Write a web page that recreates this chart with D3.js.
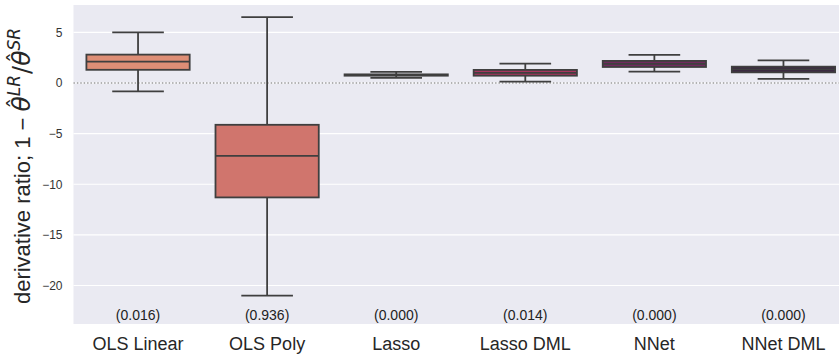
<!DOCTYPE html>
<html><head><meta charset="utf-8">
<script src="https://cdn.jsdelivr.net/npm/d3@7"></script>
<style>body{margin:0;background:#fff;} svg{display:block;font-family:"Liberation Sans",Arial,sans-serif;}</style>
</head><body>
<svg id="c" width="839" height="358"></svg>
<script>
const categories = ["OLS Linear","OLS Poly","Lasso","Lasso DML","NNet","NNet DML"];
const whiskerLow = [-0.83,-21.0,0.50,0.13,1.12,0.40];
const q1 =        [1.30,-11.3,0.72,0.72,1.58,1.05];
const median =    [2.10,-7.2,0.78,0.99,1.88,1.35];
const q3 =        [2.80,-4.13,0.85,1.29,2.18,1.61];
const whiskerHigh=[5.00,6.5,1.09,1.91,2.77,2.24];
const pvalues = ["(0.016)","(0.936)","(0.000)","(0.014)","(0.000)","(0.000)"];
const colors = ["#DE8E76","#D0756D","#BE4558","#A8345E","#702A5E","#3B2542"];
const yTicks = [5,0,-5,-10,-15,-20];

const svg = d3.select("#c");
const L=73.5, R=848, T=5, B=324;
const x = d3.scaleBand().domain(categories).range([L,R]).padding(0);
const y = d3.scaleLinear().domain([-23.8,7.7]).range([B,T]);

svg.append("rect").attr("x",L).attr("y",T).attr("width",839-L).attr("height",B-T).attr("fill","#EAEAF2");
svg.append("g").selectAll("line").data(yTicks).join("line")
  .attr("x1",L).attr("x2",839).attr("y1",d=>y(d)).attr("y2",d=>y(d))
  .attr("stroke","#fff").attr("stroke-width",1.2);
const yAxis = d3.axisLeft(y).tickValues(yTicks).tickSize(0).tickPadding(11).tickFormat(d=>d3.format("")(d).replace("-","\u2212"));
const ga = svg.append("g").attr("transform",`translate(${L},0)`).call(yAxis);
ga.select(".domain").remove();
ga.selectAll("text").attr("font-size",12).attr("fill","#333").attr("font-family","Liberation Sans, Arial, sans-serif");
svg.append("line").attr("x1",L).attr("x2",839).attr("y1",y(0)).attr("y2",y(0))
  .attr("stroke","#9a9a9a").attr("stroke-width",1.4).attr("stroke-dasharray","1.4,2");

const bw = x.bandwidth()*0.8;
const ln = "#3f3f3f", lw=1.8;
const g = svg.append("g");
categories.forEach((c,i)=>{
  const cx = x(c)+x.bandwidth()/2;
  const gg = g.append("g");
  gg.append("line").attr("x1",cx).attr("x2",cx).attr("y1",y(q3[i])).attr("y2",y(whiskerHigh[i])).attr("stroke",ln).attr("stroke-width",lw);
  gg.append("line").attr("x1",cx).attr("x2",cx).attr("y1",y(q1[i])).attr("y2",y(whiskerLow[i])).attr("stroke",ln).attr("stroke-width",lw);
  [whiskerHigh[i],whiskerLow[i]].forEach(v=>{
    gg.append("line").attr("x1",cx-bw/4).attr("x2",cx+bw/4).attr("y1",y(v)).attr("y2",y(v)).attr("stroke",ln).attr("stroke-width",lw);
  });
  gg.append("rect").attr("x",cx-bw/2).attr("width",bw).attr("y",y(q3[i])).attr("height",Math.max(0.01,y(q1[i])-y(q3[i])))
    .attr("fill",colors[i]).attr("stroke",ln).attr("stroke-width",lw);
  gg.append("line").attr("x1",cx-bw/2).attr("x2",cx+bw/2).attr("y1",y(median[i])).attr("y2",y(median[i])).attr("stroke",ln).attr("stroke-width",lw);
  svg.append("text").attr("x",cx).attr("y",320).attr("text-anchor","middle").attr("font-size",14).attr("fill","#222").text(pvalues[i]);
  svg.append("text").attr("x",cx).attr("y",350).attr("text-anchor","middle").attr("font-size",18).attr("fill","#262626").text(c);
});

// y label
const yl = svg.append("text").attr("transform","translate(30,166) rotate(-90)").attr("text-anchor","middle")
  .attr("font-size",22).attr("fill","#262626");
yl.append("tspan").text("derivative ratio; 1 \u2212 ");
const mf = "DejaVu Sans, sans-serif";
function theta(){
  yl.append("tspan").attr("font-family",mf).attr("font-style","italic").attr("font-size",25).text("\u03B8");
  yl.append("tspan").attr("font-family",mf).attr("font-size",22).attr("dx",-12.5).attr("dy",-7).text("\u02C6");
}
theta();
yl.append("tspan").attr("font-family",mf).attr("font-size",17).attr("font-style","italic").attr("dx",1.5).attr("dy",-3).text("LR");
yl.append("tspan").attr("font-family",mf).attr("font-size",24).attr("dx",1).attr("dy",10).text("/");
theta();
yl.append("tspan").attr("font-family",mf).attr("font-size",17).attr("font-style","italic").attr("dx",1.5).attr("dy",-3).text("SR");
</script>
</body></html>
